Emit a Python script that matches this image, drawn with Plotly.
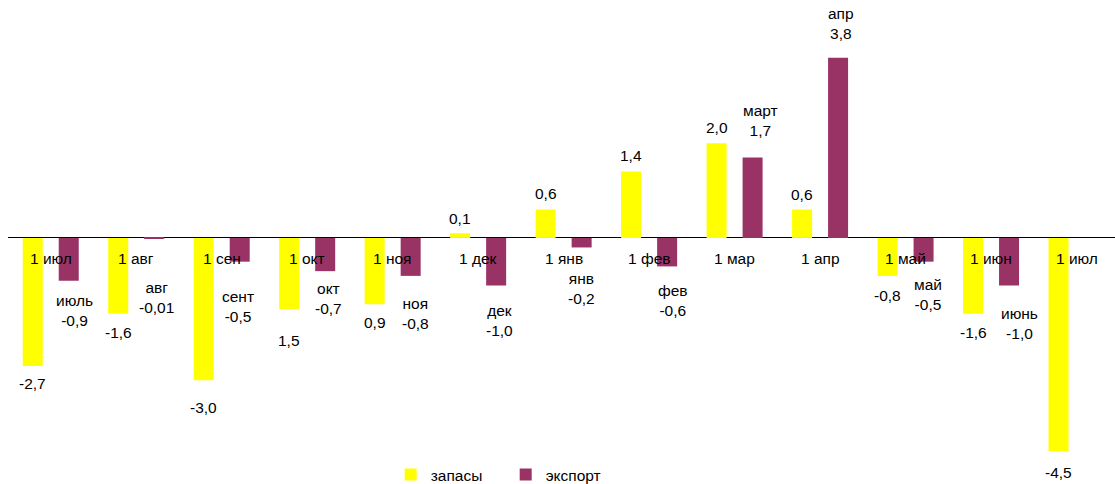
import plotly.graph_objects as go

# ---- data ----
categories = ["1 июл", "1 авг", "1 сен", "1 окт", "1 ноя", "1 дек", "1 янв",
              "1 фев", "1 мар", "1 апр", "1 май", "1 июн", "1 июл"]
stocks = [-2.7, -1.6, -3.0, -1.5, -1.4, 0.1, 0.6, 1.4, 2.0, 0.6, -0.8, -1.6, -4.5]
stock_labels = ["-2,7", "-1,6", "-3,0", "1,5", "0,9", "0,1", "0,6", "1,4", "2,0",
                "0,6", "-0,8", "-1,6", "-4,5"]
exports = [-0.9, -0.01, -0.5, -0.7, -0.8, -1.0, -0.2, -0.6, 1.7, 3.8, -0.5, -1.0, None]
export_months = ["июль", "авг", "сент", "окт", "ноя", "дек", "янв", "фев", "март",
                 "апр", "май", "июнь"]
export_labels = ["-0,9", "-0,01", "-0,5", "-0,7", "-0,8", "-1,0", "-0,2", "-0,6",
                 "1,7", "3,8", "-0,5", "-1,0"]
series_names = ["запасы", "экспорт"]

# ---- label placement (pixel offsets from bar ends, style only) ----
stock_gap = [18, 19, 27, 31, 18, 15, 16, 16, 16, 15, 20, 19, 21]
export_gap = [30, 59.5, 44.5, 27, 38, 35.5, 41.5, 34, 37, 34, 33, 38.5]
export_dx = [6, 2, -2, 3, 4.5, 3, 0, 6, 8, 3, 4, 10]

FONT = "Liberation Sans, Arial, sans-serif"
YELLOW = "#FFFF00"
MAROON = "#993366"
BARGAP = 0.158
GROUPGAP = 0.444

x = list(range(len(categories)))

fig = go.Figure()
fig.add_trace(go.Bar(x=x, y=stocks, name=series_names[0],
                     marker=dict(color=YELLOW, line=dict(width=0)),
                     hoverinfo="skip"))
fig.add_trace(go.Bar(x=x, y=exports, name=series_names[1],
                     marker=dict(color=MAROON, line=dict(width=0)),
                     hoverinfo="skip"))

off = (1 - BARGAP) / 4.0
ann = []
for i, c in enumerate(categories):
    ann.append(dict(x=i, y=0, text=c, showarrow=False, yshift=-21,
                    xanchor="center", yanchor="middle"))
for i, (v, t) in enumerate(zip(stocks, stock_labels)):
    s = 1 if v >= 0 else -1
    ann.append(dict(x=i - off, y=v, text=t, showarrow=False,
                    yshift=s * stock_gap[i], xanchor="center", yanchor="middle"))
for i, (m, t) in enumerate(zip(export_months, export_labels)):
    v = exports[i]
    s = 1 if v >= 0 else -1
    ann.append(dict(x=i + off, y=v, text=m + "<br>" + t, showarrow=False,
                    yshift=s * export_gap[i], xshift=export_dx[i],
                    xanchor="center", yanchor="middle"))

fig.update_layout(
    width=1115, height=484,
    margin=dict(l=8, r=0, t=0, b=0, autoexpand=False),
    paper_bgcolor="white", plot_bgcolor="white",
    barmode="group", bargap=BARGAP, bargroupgap=GROUPGAP,
    font=dict(family=FONT, size=15.5, color="#000000"),
    annotations=ann,
    showlegend=True,
    legend=dict(orientation="h", x=0.3457, xanchor="left", y=0.0186,
                yanchor="middle", font=dict(size=15.5), entrywidth=70,
                bgcolor="rgba(0,0,0,0)"),
    xaxis=dict(range=[-0.5, 12.45], showticklabels=False, showgrid=False,
               zeroline=False, showline=False, ticks=""),
    yaxis=dict(range=[-5.19, 5.02], showticklabels=False, showgrid=False,
               zeroline=True, zerolinecolor="#000000", zerolinewidth=1,
               showline=False, ticks=""),
)

fig.write_html("out.html", config={"displayModeBar": False},
               post_script="document.body.style.margin='0';document.body.style.overflow='hidden';")
